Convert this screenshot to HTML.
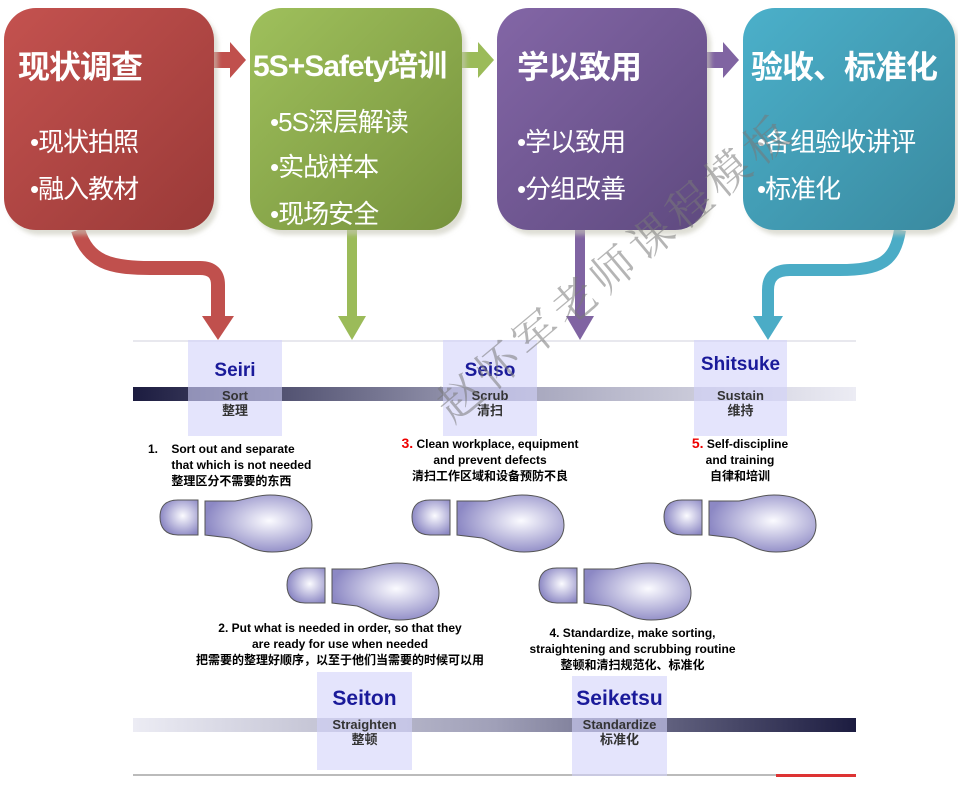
<!DOCTYPE html>
<html><head><meta charset="utf-8"><style>
body{margin:0;width:958px;height:785px;background:#fff;overflow:hidden;position:relative;font-family:"Liberation Sans","Noto Sans CJK SC",sans-serif}
.box{position:absolute;top:8px;width:210px;height:222px;border-radius:32px;color:#fff;box-shadow:4px 5px 4px rgba(200,200,185,.6)}
.t{position:absolute;top:34px;left:14px;font-size:32px;font-weight:bold;white-space:nowrap;letter-spacing:-1px}
.b{position:absolute;left:26px;font-size:26px;white-space:nowrap;letter-spacing:-1px}
.a{position:absolute;color:#000;font-weight:bold;text-align:center;white-space:nowrap}
.lv{position:absolute;background:rgba(210,210,250,.6)}
.h{position:absolute;font-size:19px;font-weight:bold;color:#1a1a9a;text-align:center;width:100%}
.s{position:absolute;font-size:13px;font-weight:bold;color:#333;text-align:center;width:100%;line-height:15px}
</style></head><body>
<svg width="958" height="785" style="position:absolute;left:0;top:0">
<defs>
<radialGradient id="g" cx="0.6" cy="0.45" r="0.6"><stop offset="0" stop-color="#fbfbff"/><stop offset="1" stop-color="#8c88c4"/></radialGradient>
<linearGradient id="bar1" x1="0" x2="1"><stop offset="0" stop-color="#1c1c40"/><stop offset="0.5" stop-color="#a0a0b8"/><stop offset="1" stop-color="#ececf4"/></linearGradient>
<linearGradient id="bar2" x1="0" x2="1"><stop offset="0" stop-color="#ececf4"/><stop offset="0.5" stop-color="#a0a0b8"/><stop offset="1" stop-color="#1c1c40"/></linearGradient>
<g id="fp"><path d="M38,5 L38,40 L18,40 C5,40 0,32 0,22 C0,12 5,5 18,5 Z" fill="url(#g)" stroke="#555" stroke-width="1"/><path d="M45,6 L45,40 L70,43 C85,48 92,57 112,57 C140,57 152,45 152,30 C152,15 140,0 110,0 C95,0 85,5 75,6 Z" fill="url(#g)" stroke="#555" stroke-width="1"/></g>
</defs>
<polygon points="214,52 230,52 230,42 246,60 230,78 230,68 214,68" fill="#c0504d"/>
<polygon points="462,52 478,52 478,42 494,60 478,78 478,68 462,68" fill="#9bbb59"/>
<polygon points="707,52 723,52 723,42 739,60 723,78 723,68 707,68" fill="#8064a2"/>
<path d="M78,230 C88,262 110,268 150,268 L200,268 Q218,268 218,285 L218,318" fill="none" stroke="#c0504d" stroke-width="14"/>
<polygon points="202,316 234,316 218,340" fill="#c0504d"/>
<rect x="347" y="230" width="10" height="88" fill="#9bbb59"/>
<polygon points="338,316 366,316 352,340" fill="#9bbb59"/>
<rect x="575" y="230" width="10" height="88" fill="#8064a2"/>
<polygon points="566,316 594,316 580,340" fill="#8064a2"/>
<path d="M900,230 C895,262 880,270 840,270 L790,270 Q768,270 768,290 L768,318" fill="none" stroke="#4bacc6" stroke-width="12"/>
<polygon points="753,316 783,316 768,340" fill="#4bacc6"/>
<rect x="133" y="340" width="723" height="2" fill="#e8e8ee"/>
<rect x="133" y="387" width="723" height="14" fill="url(#bar1)"/>
<rect x="133" y="718" width="723" height="14" fill="url(#bar2)"/>
<rect x="133" y="774" width="723" height="2" fill="#bbb"/>
<rect x="776" y="774" width="80" height="3" fill="#d33"/>
<use href="#fp" x="160" y="495"/><use href="#fp" x="412" y="495"/><use href="#fp" x="664" y="495"/>
<use href="#fp" x="287" y="563"/><use href="#fp" x="539" y="563"/>
</svg>
<div class="box" style="left:4px;background:linear-gradient(135deg,#c4524f,#9a3a38)"><div class="t">现状调查</div><div class="b" style="top:114px">•现状拍照</div><div class="b" style="top:161px">•融入教材</div></div>
<div class="box" style="left:250px;width:212px;background:linear-gradient(135deg,#9fc05c,#76923c)"><div class="t" style="left:3px;top:33px;font-size:30px">5S+Safety培训</div><div class="b" style="top:94px;left:20px">•5S深层解读</div><div class="b" style="top:139px;left:20px">•实战样本</div><div class="b" style="top:186px;left:20px">•现场安全</div></div>
<div class="box" style="left:497px;background:linear-gradient(135deg,#8366a6,#5f4a80)"><div class="t" style="left:20px">学以致用</div><div class="b" style="top:114px;left:20px">•学以致用</div><div class="b" style="top:161px;left:20px">•分组改善</div></div>
<div class="box" style="left:743px;width:212px;background:linear-gradient(135deg,#4bb0ca,#3a8aa0)"><div class="t" style="left:8px">验收、标准化</div><div class="b" style="top:114px;left:14px">•各组验收讲评</div><div class="b" style="top:161px;left:14px">•标准化</div></div>

<div class="lv" style="left:188px;top:340px;width:94px;height:96px"><div class="h" style="top:20px">Seiri</div><div class="s" style="top:48px">Sort<br>整理</div></div>
<div class="lv" style="left:443px;top:340px;width:94px;height:96px"><div class="h" style="top:20px">Seiso</div><div class="s" style="top:48px">Scrub<br>清扫</div></div>
<div class="lv" style="left:694px;top:340px;width:93px;height:96px"><div class="h" style="top:14px">Shitsuke</div><div class="s" style="top:48px">Sustain<br>维持</div></div>
<div class="lv" style="left:317px;top:672px;width:95px;height:98px"><div class="h" style="top:15px;font-size:21px">Seiton</div><div class="s" style="top:45px">Straighten<br>整顿</div></div>
<div class="lv" style="left:572px;top:676px;width:95px;height:100px"><div class="h" style="top:11px;font-size:21px">Seiketsu</div><div class="s" style="top:41px">Standardize<br>标准化</div></div>

<div class="a" style="left:148px;top:441px;font-size:12px;line-height:16px;text-align:left">1.&nbsp;&nbsp;&nbsp;&nbsp;Sort out and separate<br>&nbsp;&nbsp;&nbsp;&nbsp;&nbsp;&nbsp;&nbsp;that which is not needed<br>&nbsp;&nbsp;&nbsp;&nbsp;&nbsp;&nbsp;&nbsp;整理区分不需要的东西</div>
<div class="a" style="left:380px;top:435px;width:220px;font-size:12px;line-height:16px"><span style="color:#e00;font-size:14px">3.</span> Clean workplace, equipment<br>and prevent defects<br>清扫工作区域和设备预防不良</div>
<div class="a" style="left:660px;top:435px;width:160px;font-size:12px;line-height:16px"><span style="color:#e00;font-size:14px">5.</span> Self-discipline<br>and training<br>自律和培训</div>
<div class="a" style="left:170px;top:620px;width:340px;font-size:12px;line-height:16px">2. Put what is needed in order, so that they<br>are ready for use when needed<br>把需要的整理好顺序，以至于他们当需要的时候可以用</div>
<div class="a" style="left:500px;top:625px;width:265px;font-size:12px;line-height:16px">4. Standardize, make sorting,<br>straightening and scrubbing routine<br>整顿和清扫规范化、标准化</div>

<div style="position:absolute;font-size:44px;color:rgba(120,120,120,.55);transform:rotate(-40deg);transform-origin:left top;white-space:nowrap;font-family:'Noto Serif CJK SC',serif;top:385px;left:420px;letter-spacing:6px">赵怀军老师课程模板</div>
</body></html>
